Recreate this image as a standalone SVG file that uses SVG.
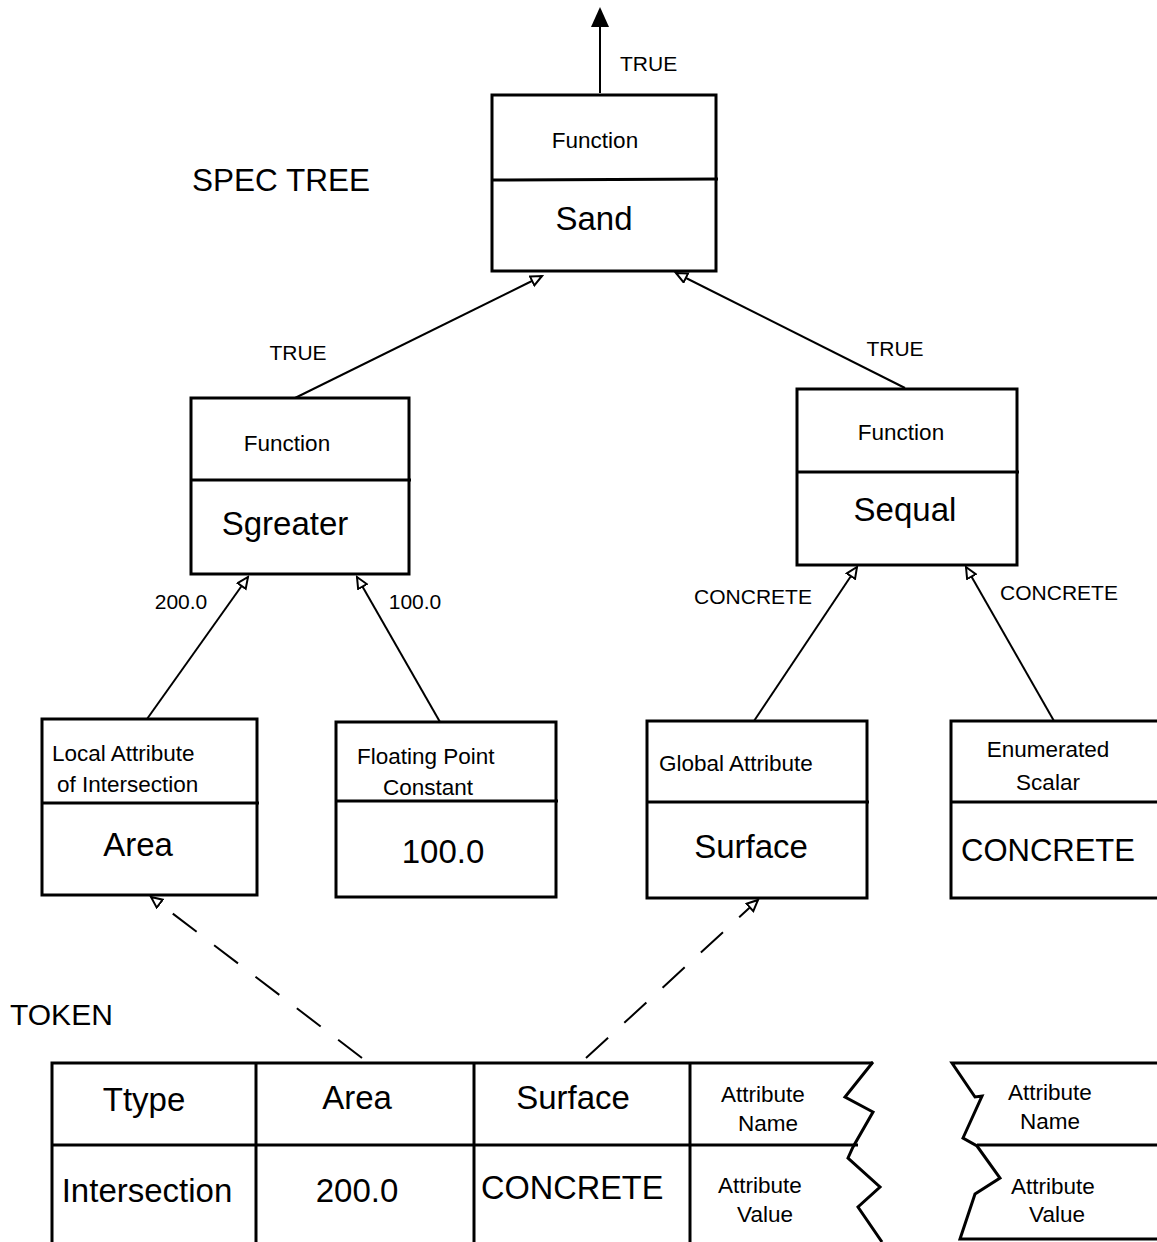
<svg xmlns="http://www.w3.org/2000/svg" width="1157" height="1242" viewBox="0 0 1157 1242">
<defs>
<marker id="open" markerWidth="14" markerHeight="14" refX="12" refY="6" orient="auto" markerUnits="userSpaceOnUse">
<path d="M1,1 L12,6 L1,11 Z" fill="#fff" stroke="#000" stroke-width="2"/>
</marker>
</defs>
<style>
text{font-family:"Liberation Sans",Arial,sans-serif;fill:#000}
.box{fill:none;stroke:#000;stroke-width:3}
.div{stroke:#000;stroke-width:3}
.e{stroke:#000;stroke-width:2;fill:none}
.s{font-size:21px}
.m{font-size:22.5px}
.l{font-size:33px}
.c{text-anchor:middle}
</style>
<rect width="1157" height="1242" fill="#fff"/>
<text x="192" y="191" font-size="31.5">SPEC TREE</text>
<text x="10" y="1025" font-size="30">TOKEN</text>

<g id="connectors">
<line x1="600" y1="93" x2="600" y2="24" class="e"/>
<path d="M600,7 L609,27 L591,27 Z" fill="#000"/>
<text x="620" y="71" class="s">TRUE</text>
<line x1="295" y1="398" x2="542" y2="276" class="e" marker-end="url(#open)"/>
<text x="298" y="360" class="s c">TRUE</text>
<line x1="905" y1="388" x2="676" y2="273" class="e" marker-end="url(#open)"/>
<text x="895" y="356" class="s c">TRUE</text>
<line x1="147" y1="719" x2="248" y2="577" class="e" marker-end="url(#open)"/>
<text x="181" y="609" class="s c">200.0</text>
<line x1="440" y1="722" x2="357" y2="577" class="e" marker-end="url(#open)"/>
<text x="415" y="609" class="s c">100.0</text>
<line x1="754" y1="721" x2="857" y2="567" class="e" marker-end="url(#open)"/>
<text x="753" y="604" class="s c">CONCRETE</text>
<line x1="1054" y1="721" x2="966" y2="567" class="e" marker-end="url(#open)"/>
<text x="1059" y="600" class="s c">CONCRETE</text>
<line x1="362" y1="1058" x2="151" y2="897" class="e" stroke-dasharray="30,22" marker-end="url(#open)"/>
<line x1="586" y1="1058" x2="758" y2="900" class="e" stroke-dasharray="30,22" marker-end="url(#open)"/>
</g>

<g id="sand">
<rect x="492" y="95" width="224" height="176" class="box"/>
<line x1="492" y1="180" x2="718" y2="179" class="div"/>
<text x="595" y="148" class="m c">Function</text>
<text x="594" y="230" class="l c">Sand</text>
</g>

<g id="sgreater">
<rect x="191" y="398" width="218" height="176" class="box"/>
<line x1="191" y1="480" x2="411" y2="480" class="div"/>
<text x="287" y="451" class="m c">Function</text>
<text x="285" y="535" class="l c">Sgreater</text>
</g>

<g id="sequal">
<rect x="797" y="389" width="220" height="176" class="box"/>
<line x1="797" y1="472" x2="1019" y2="472" class="div"/>
<text x="901" y="440" class="m c">Function</text>
<text x="905" y="521" class="l c">Sequal</text>
</g>

<g id="area">
<rect x="42" y="719" width="215" height="176" class="box"/>
<line x1="42" y1="803" x2="259" y2="803" class="div"/>
<text x="52" y="761" class="m">Local Attribute</text>
<text x="57" y="792" class="m">of Intersection</text>
<text x="138" y="856" class="l c">Area</text>
</g>

<g id="float">
<rect x="336" y="722" width="220" height="175" class="box"/>
<line x1="336" y1="801" x2="558" y2="801" class="div"/>
<text x="357" y="764" class="m">Floating Point</text>
<text x="383" y="795" class="m">Constant</text>
<text x="443" y="863" class="l c">100.0</text>
</g>

<g id="surface">
<rect x="647" y="721" width="220" height="177" class="box"/>
<line x1="647" y1="802" x2="869" y2="802" class="div"/>
<text x="659" y="771" class="m">Global Attribute</text>
<text x="751" y="858" class="l c">Surface</text>
</g>

<g id="concrete">
<path d="M1157,721 H951 V898 H1157" class="box"/>
<line x1="951" y1="802" x2="1157" y2="802" class="div"/>
<text x="1048" y="757" class="m c">Enumerated</text>
<text x="1048" y="790" class="m c">Scalar</text>
<text x="961" y="861" font-size="31">CONCRETE</text>
</g>

<g id="token">
<path d="M873,1063 H52 V1242" class="box"/>
<line x1="52" y1="1145" x2="858" y2="1145" class="div"/>
<line x1="256" y1="1063" x2="256" y2="1242" class="div"/>
<line x1="474" y1="1063" x2="474" y2="1242" class="div"/>
<line x1="690" y1="1063" x2="690" y2="1242" class="div"/>
<path d="M873,1062 L845,1097 L873,1112 L853,1147 L848,1158 L880,1187 L858,1207 L882,1242" class="box"/>
<text x="144" y="1111" class="l c">Ttype</text>
<text x="357" y="1109" class="l c">Area</text>
<text x="573" y="1109" class="l c">Surface</text>
<text x="763" y="1102" class="m c">Attribute</text>
<text x="768" y="1131" class="m c">Name</text>
<text x="147" y="1202" class="l c">Intersection</text>
<text x="357" y="1202" class="l c">200.0</text>
<text x="481" y="1199" font-size="32.5">CONCRETE</text>
<text x="760" y="1193" class="m c">Attribute</text>
<text x="765" y="1222" class="m c">Value</text>
</g>

<g id="token-tail">
<path d="M1157,1063 H952 L975,1097 L982,1096 L963,1138 L977,1146 L1000,1178 L975,1194 L960,1239 H1157" class="box"/>
<line x1="977" y1="1145" x2="1157" y2="1145" class="div"/>
<text x="1050" y="1100" class="m c">Attribute</text>
<text x="1050" y="1129" class="m c">Name</text>
<text x="1053" y="1194" class="m c">Attribute</text>
<text x="1057" y="1222" class="m c">Value</text>
</g>
</svg>
